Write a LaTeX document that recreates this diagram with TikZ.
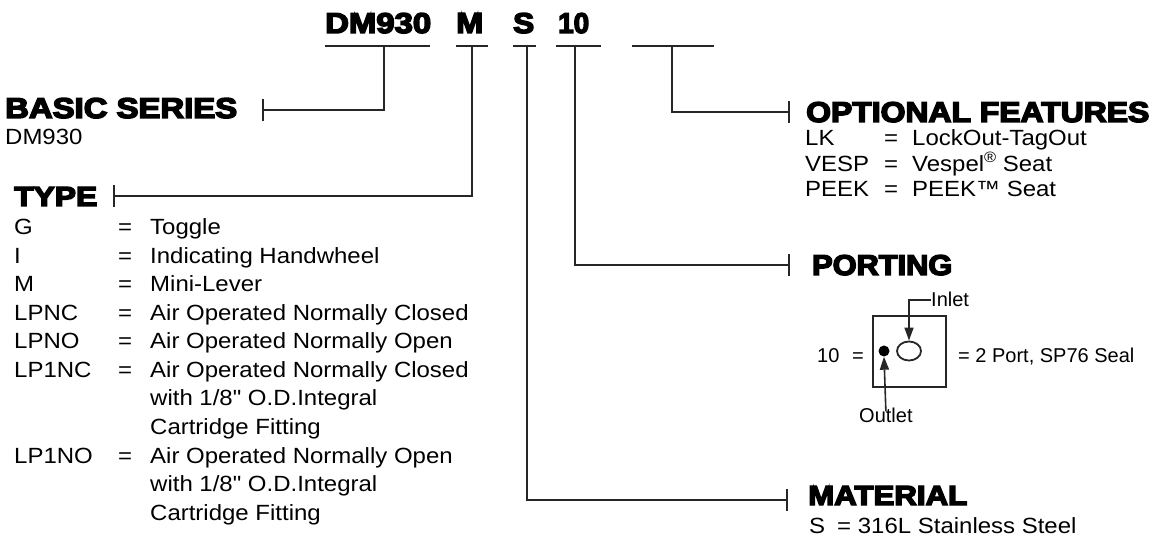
\documentclass[tikz,border=0pt]{standalone}
\usepackage{fontspec}
\usepackage{graphicx}
\setmainfont{Liberation Sans}
\newfontfamily\heavy[FakeBold=5]{Liberation Sans Bold}
\newfontfamily\body[FakeStretch=1.09]{Liberation Sans}
\usetikzlibrary{arrows.meta,shapes.geometric}
\newcommand\hdtext[3]{\resizebox{#1}{#2}{\heavy #3}}
\begin{document}
\begin{tikzpicture}[x=1pt,y=-1pt,
  ln/.style={line width=1.9pt, draw=black!85},
  conn/.style={ln, -{Bar[width=22pt,line width=1.9pt]}},
  hd/.style={inner sep=0, anchor=base west},
  txt/.style={inner sep=0, anchor=base west, font=\body\fontsize{22}{25}\selectfont},
  ptxt/.style={inner sep=0, anchor=base west, font=\fontsize{20}{24}\selectfont},
  arr/.style={line width=1.6pt, draw=black!85, -{Triangle[length=13pt,width=9pt]}}]
\useasboundingbox (0,0) rectangle (1160,537);

% title
\node[hd] (tDM) at (325,33) {\hdtext{106pt}{20pt}{DM930}};
\node[hd] (tM) at (456,33) {\hdtext{27pt}{20pt}{M}};
\node[hd] (tS) at (513,33) {\hdtext{21pt}{20pt}{S}};
\node[hd] (t10) at (558,33) {\hdtext{31pt}{20pt}{10}};

% underlines
\draw[ln] (325,46) -- (430,46);
\draw[ln] (456,46) -- (488,46);
\draw[ln] (513,46) -- (536,46);
\draw[ln] (556,46) -- (601,46);
\draw[ln] (632,46) -- (714,46);

\coordinate (jDM) at (384,46);
\coordinate (jM) at (472,46);
\coordinate (jS) at (527,46);
\coordinate (j10) at (575,46);
\coordinate (jOpt) at (672,46);

\coordinate (eBasic) at (262,110);
\coordinate (eType) at (113,196);
\coordinate (eMat) at (788,500);
\coordinate (ePort) at (790,265);
\coordinate (eOpt) at (790,112);

\draw[conn] (jDM) |- (eBasic);
\draw[conn] (jM) |- (eType);
\draw[conn] (jS) |- (eMat);
\draw[conn] (j10) |- (ePort);
\draw[conn] (jOpt) |- (eOpt);

% headings
\node[hd] (basic) at (5,118) {\hdtext{232pt}{20pt}{BASIC SERIES}};
\node[txt] (basicv) at (5,145) {DM930};
\node[hd] (type) at (14,206) {\hdtext{83pt}{19pt}{TYPE}};
\node[hd] (opt) at (806,122) {\hdtext{343pt}{20pt}{OPTIONAL FEATURES}};
\node[hd] (port) at (812,275) {\hdtext{140pt}{20pt}{PORTING}};
\node[hd] (mat) at (808,505) {\hdtext{159pt}{19pt}{MATERIAL}};

% type list
\node[txt] (k1) at (14,235) {G};     \node[txt] (q1) at (118,235) {=};   \node[txt] (d1) at (150,235) {Toggle};
\node[txt] (k2) at (14,263.5) {I};   \node[txt] (q2) at (118,263.5) {=}; \node[txt] (d2) at (150,263.5) {Indicating Handwheel};
\node[txt] (k3) at (14,292) {M};     \node[txt] (q3) at (118,292) {=};   \node[txt] (d3) at (150,292) {Mini-Lever};
\node[txt] (k4) at (14,320.5) {LPNC};\node[txt] (q4) at (118,320.5) {=}; \node[txt] (d4) at (150,320.5) {Air Operated Normally Closed};
\node[txt] (k5) at (14,349) {LPNO};  \node[txt] (q5) at (118,349) {=};   \node[txt] (d5) at (150,349) {Air Operated Normally Open};
\node[txt] (k6) at (14,377.5) {LP1NC};\node[txt] (q6) at (118,377.5) {=};\node[txt] (d6) at (150,377.5) {Air Operated Normally Closed};
\node[txt] (d6b) at (150,406) {with 1/8" O.D.Integral};
\node[txt] (d6c) at (150,434.5) {Cartridge Fitting};
\node[txt] (k7) at (14,463) {LP1NO}; \node[txt] (q7) at (118,463) {=};   \node[txt] (d7) at (150,463) {Air Operated Normally Open};
\node[txt] (d7b) at (150,491.5) {with 1/8" O.D.Integral};
\node[txt] (d7c) at (150,520) {Cartridge Fitting};

% optional features list
\node[txt] (o1) at (805,146) {LK};   \node[txt] (oq1) at (884,146) {=}; \node[txt] (od1) at (912,146) {LockOut-TagOut};
\node[txt] (o2) at (805,171.5) {VESP}; \node[txt] (oq2) at (884,171.5) {=}; \node[txt] (od2) at (912,171.5) {Vespel\raisebox{0.42em}{\fontsize{15}{15}\selectfont ®} Seat};
\node[txt] (o3) at (805,197) {PEEK}; \node[txt] (oq3) at (884,197) {=}; \node[txt] (od3) at (912,197) {PEEK™ Seat};

% porting
\node[ptxt] (p10) at (817,363) {10};
\node[ptxt] (peq) at (852,363) {=};
\node[ln, draw, minimum width=73pt, minimum height=71pt, inner sep=0] (box) at (909.5,351.5) {};
\node[circle, fill=black, minimum size=11pt, inner sep=0] (dot) at (884,351) {};
\node[ellipse, draw=black!85, line width=1.8pt, minimum width=24pt, minimum height=19pt, inner sep=0] (ell) at (909,351) {};
\node[ptxt] (pdesc) at (958,363) {= 2 Port, SP76 Seal};
\node[ptxt] (inlet) at (931,307) {Inlet};
\node[ptxt] (outlet) at (859,423) {Outlet};
\draw[arr] (inlet.west) -| (ell.north);
\draw[arr] ([yshift=-3pt]outlet.north) -- (dot.south);

% material
\node[txt] (m1) at (809,533) {S};
\node[txt] (md) at (837,533) {= 316L Stainless Steel};
\end{tikzpicture}
\end{document}
